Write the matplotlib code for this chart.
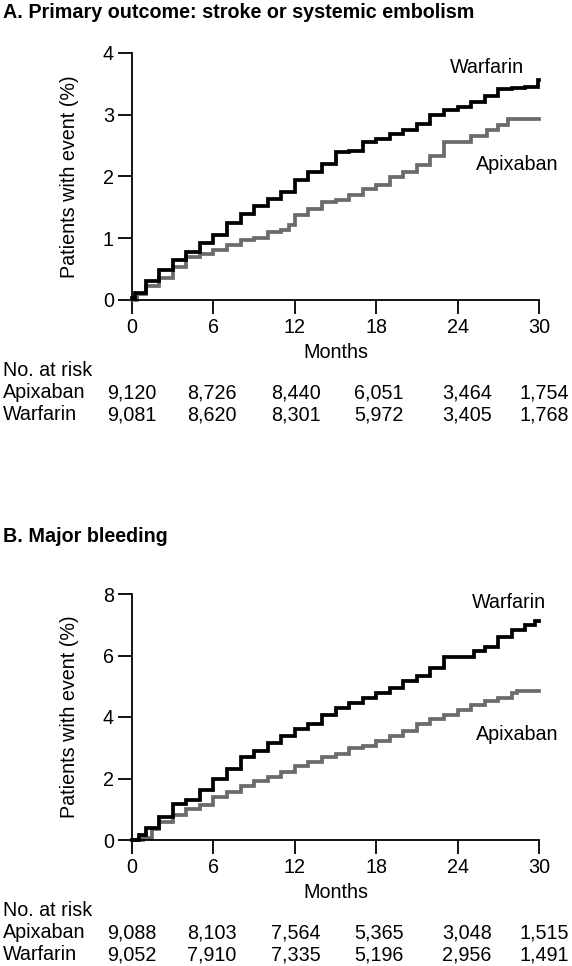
import matplotlib
matplotlib.use("Agg")
import matplotlib.pyplot as plt
import matplotlib.transforms as mtransforms

plt.rcParams["font.family"] = ["Liberation Sans", "DejaVu Sans"]

# ── 데이터 ──────────────────────────────────────────────────────────────────
MONTHS = [0, 6, 12, 18, 24, 30]

# A. 1차 결과: 뇌졸중 또는 전신 색전증 (%)
A_WARF_T = [0, 0.2, 1, 2, 3, 4, 5, 6, 7, 8, 9, 10, 11, 12, 13, 14, 15, 16,
            17, 18, 19, 20, 21, 22, 23, 24, 25, 26, 27, 28, 29, 29.95]
A_WARF_Y = [0.03, 0.12, 0.30, 0.48, 0.65, 0.78, 0.92, 1.05, 1.24, 1.40, 1.53,
            1.64, 1.75, 1.94, 2.07, 2.20, 2.40, 2.42, 2.56, 2.61, 2.69, 2.75,
            2.85, 3.00, 3.07, 3.12, 3.20, 3.31, 3.42, 3.43, 3.45, 3.57]
A_APIX_T = [0, 0.4, 1, 2, 3, 4, 5, 6, 7, 8, 9, 10, 11, 11.6, 12, 13, 14, 15,
            16, 17, 18, 19, 20, 21, 22, 23, 25, 26.2, 27, 27.7]
A_APIX_Y = [0.0, 0.10, 0.22, 0.35, 0.54, 0.70, 0.75, 0.81, 0.89, 0.97, 1.00,
            1.10, 1.13, 1.22, 1.37, 1.48, 1.59, 1.62, 1.70, 1.80, 1.86, 1.99,
            2.07, 2.18, 2.34, 2.56, 2.65, 2.76, 2.83, 2.93]
A_RISK_APIX = ["9,120", "8,726", "8,440", "6,051", "3,464", "1,754"]
A_RISK_WARF = ["9,081", "8,620", "8,301", "5,972", "3,405", "1,768"]

# B. 주요 출혈 (%)
B_WARF_T = [0, 0.5, 1, 2, 3, 4, 5, 6, 7, 8, 9, 10, 11, 12, 13, 14, 15, 16,
            17, 18, 19, 20, 21, 22, 23, 25.2, 26, 27, 28, 29, 29.7]
B_WARF_Y = [0.0, 0.16, 0.38, 0.75, 1.18, 1.29, 1.61, 1.99, 2.31, 2.69, 2.90,
            3.17, 3.38, 3.62, 3.76, 4.08, 4.30, 4.46, 4.62, 4.78, 4.94, 5.16,
            5.32, 5.59, 5.95, 6.15, 6.28, 6.60, 6.82, 6.98, 7.12]
B_APIX_T = [0, 0.8, 1.5, 2, 3, 4, 5, 6, 7, 8, 9, 10, 11, 12, 13, 14, 15, 16,
            17, 18, 19, 20, 21, 22, 23, 24, 25, 26, 27, 28, 28.4]
B_APIX_Y = [0.0, 0.08, 0.35, 0.59, 0.80, 1.02, 1.13, 1.40, 1.56, 1.77, 1.93,
            2.04, 2.20, 2.42, 2.55, 2.69, 2.79, 3.00, 3.06, 3.22, 3.38, 3.54,
            3.76, 3.92, 4.08, 4.24, 4.40, 4.51, 4.62, 4.78, 4.85]
B_RISK_APIX = ["9,088", "8,103", "7,564", "5,365", "3,048", "1,515"]
B_RISK_WARF = ["9,052", "7,910", "7,335", "5,196", "2,956", "1,491"]

# ── 레이아웃 ────────────────────────────────────────────────────────────────
W, H = 572, 966
FS = 14.2
WARF_COLOR = "#000000"
APIX_COLOR = "#6b6b6b"
RISK_X_SHIFT = [0, -0.1, 0.1, 0.2, 0.7, 0.4]   # 숫자 위치 미세 조정 (개월)

fig = plt.figure(figsize=(W / 100, H / 100), dpi=100)


def fy(px):
    return 1 - px / H


def draw_panel(ax, title, title_y, warf, apix, ymax, ystep, labels_pos,
               risk_apix, risk_warf, base):
    for (t, y), color in ((warf, WARF_COLOR), (apix, APIX_COLOR)):
        ax.plot(list(t) + [30], list(y) + [y[-1]], drawstyle="steps-post",
                color=color, lw=2.7, clip_on=False, solid_joinstyle="miter",
                zorder=3 if color == WARF_COLOR else 2)

    ax.set_xlim(0, 30)
    ax.set_ylim(0, ymax)
    ax.set_xticks(MONTHS)
    ax.set_yticks(range(0, ymax + 1, ystep))
    for s in ("top", "right"):
        ax.spines[s].set_visible(False)
    for s in ("left", "bottom"):
        ax.spines[s].set_linewidth(1.3)
    ax.tick_params(direction="out", length=10, width=1.3, labelsize=FS, pad=3)
    ax.set_ylabel("Patients with event (%)", fontsize=FS)
    ax.yaxis.set_label_coords(-0.13, 0.5)

    (wx, wy), (px, py) = labels_pos
    ax.text(wx, wy, "Warfarin", fontsize=FS, ha="center", va="center")
    ax.text(px, py, "Apixaban", fontsize=FS, ha="center", va="center")

    fig.text(3 / W, fy(title_y), title, fontsize=FS, fontweight="bold",
             ha="left", va="center")

    # 하단 표: Months / No. at risk
    tr = mtransforms.blended_transform_factory(ax.transData, fig.transFigure)
    fig.text((132 + 407 / 2) / W, fy(base + 52), "Months", fontsize=FS,
             ha="center", va="center")
    fig.text(3 / W, fy(base + 71), "No. at risk", fontsize=FS,
             ha="left", va="center")
    for row, (name, vals) in enumerate((("Apixaban", risk_apix),
                                        ("Warfarin", risk_warf))):
        ypx = base + 93 + row * 22
        fig.text(3 / W, fy(ypx), name, fontsize=FS, ha="left", va="center")
        for m, dx, v in zip(MONTHS, RISK_X_SHIFT, vals):
            ax.text(m + dx, fy(ypx), v, fontsize=FS, ha="center", va="center",
                    transform=tr)


ax_a = fig.add_axes([132 / W, fy(300), 407 / W, 247 / H])
ax_b = fig.add_axes([132 / W, fy(840), 407 / W, 246 / H])

draw_panel(ax_a, "A. Primary outcome: stroke or systemic embolism", 12,
           (A_WARF_T, A_WARF_Y), (A_APIX_T, A_APIX_Y), 4, 1,
           ((26.2, 3.77), (28.4, 2.2)), A_RISK_APIX, A_RISK_WARF, 300)
draw_panel(ax_b, "B. Major bleeding", 536,
           (B_WARF_T, B_WARF_Y), (B_APIX_T, B_APIX_Y), 8, 2,
           ((27.8, 7.73), (28.4, 3.44)), B_RISK_APIX, B_RISK_WARF, 840)

fig.savefig("out.png", dpi=100)
